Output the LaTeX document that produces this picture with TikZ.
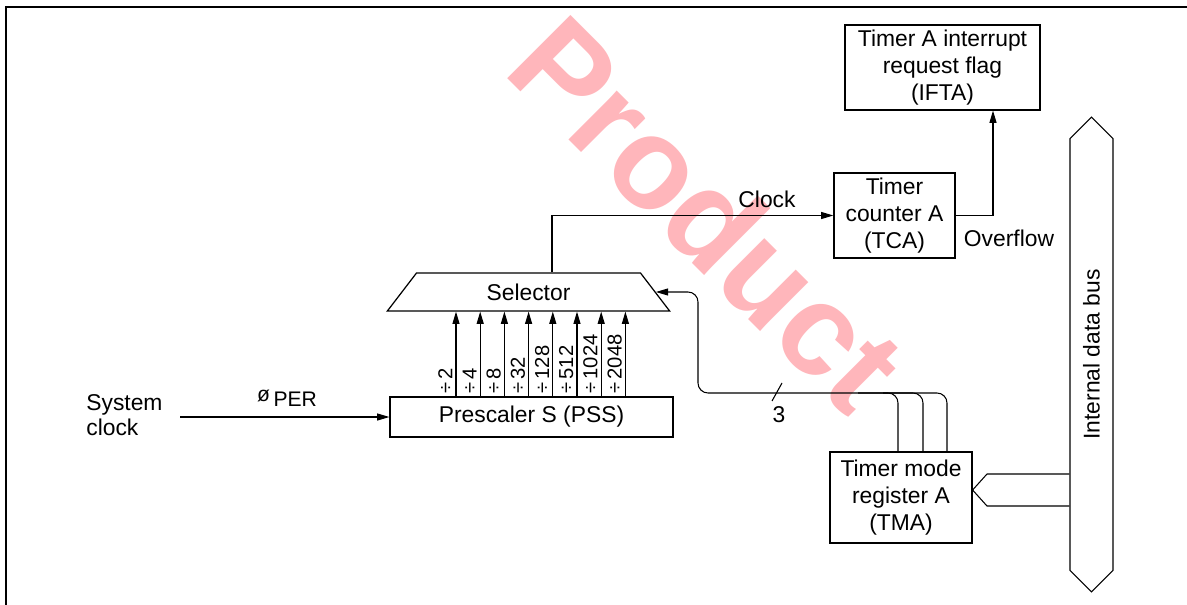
\documentclass[tikz,border=0pt]{standalone}
\usepackage{fontspec}
\setmainfont{Liberation Sans}
\usetikzlibrary{arrows.meta,shapes.geometric,shapes.arrows}
\definecolor{wmark}{RGB}{255,182,187}

\begin{document}
\begin{tikzpicture}[x=0.02cm,y=-0.02cm,
    every node/.style={font=\fontsize{13}{15.3}\selectfont},
    block/.style={draw,rectangle,align=center,inner sep=0pt,line width=0.7pt},
    wire/.style={line width=0.6pt},
    sig/.style={wire,-{Triangle[length=7pt,width=4pt]}},
    divlabel/.style={rotate=90,anchor=south west,inner sep=1pt,font=\fontsize{11.5}{11.5}\selectfont}]

  \useasboundingbox (0,0) rectangle (1187,605);

  % watermark
  \node[rotate=-45,text=wmark,font=\fontsize{74}{74}\selectfont\bfseries] (mark) at (708,213) {Product};

  % frame
  \draw[line width=0.9pt] (6,605) -- (6,7) -- (1187,7);

  % blocks
  \node[block,minimum width=3.9cm,minimum height=1.7cm] (ifta) at (942.5,67.5) {Timer A interrupt\\request flag\\(IFTA)};
  \node[block,minimum width=2.42cm,minimum height=1.7cm] (tca) at (894.5,215.5) {Timer\\counter A\\(TCA)};
  \node[block,minimum width=2.84cm,minimum height=1.82cm] (tma) at (901,497.5) {Timer mode\\register A\\(TMA)};
  \node[block,minimum width=5.66cm,minimum height=0.8cm] (pss) at (531.5,417) {Prescaler S (PSS)};
  \node[draw,trapezium,trapezium angle=57,trapezium stretches=true,minimum width=5.66cm,minimum height=0.76cm,inner sep=0pt,line width=0.7pt] (sel) at (528.5,292) {Selector};
  \node[draw,double arrow,double arrow head extend=0pt,double arrow tip angle=90,minimum height=9.5cm,minimum width=0.86cm,inner sep=2pt,rotate=90,line width=0.6pt] (bus) at (1091.5,354.5) {Internal data bus};

  % system clock input
  \node[align=left,anchor=west,inner sep=0pt,font=\fontsize{13}{14.2}\selectfont] (sysclk) at (86,415) {System\\clock};
  \coordinate (clkin) at (180,417);
  \draw[sig] (clkin) -- (pss.west);
  \node[font=\fontsize{12}{12}\selectfont] (phi) at (287,398) {ø\,\raisebox{-3pt}{PER}};

  % divider outputs
  \foreach \i / \d in {0/2,1/4,2/8,3/32,4/128,5/512,6/1024,7/2048} {
    \pgfmathsetmacro\x{456+24.2*\i}
    \draw[sig] (pss.north -| \x,0) -- (sel.south -| \x,0);
    \node[divlabel] (div\i) at (\x-1.5,396) {÷\,\d};
  }

  % clock to counter, overflow to flag
  \draw[sig] (sel.north -| 552,0) |- (tca.west);
  \node (clk) at (767,199) {Clock};
  \draw[sig] (tca.east) -| (ifta.south -| 993,0);
  \node (ovf) at (1009,238) {Overflow};

  % mode select lines
  \draw[sig,rounded corners=0.2cm] (tma.north -| 947,0) -- (947,393) -- (698,393) -- (698,292) -- (sel.east);
  \foreach \x in {898,923} {
    \draw[wire,rounded corners=0.2cm] (tma.north -| \x,0) -- (\x,393) -- ({\x-40},393);
  }
  \draw[wire] (772,401) -- (782,383);
  \node (three) at (779,415) {3};

  % bus to register
  \draw[wire] (bus.north |- 0,474) -- (987,474) -- (tma.east |- 0,490) -- (987,506) -- (bus.north |- 0,506);
\end{tikzpicture}
\end{document}
